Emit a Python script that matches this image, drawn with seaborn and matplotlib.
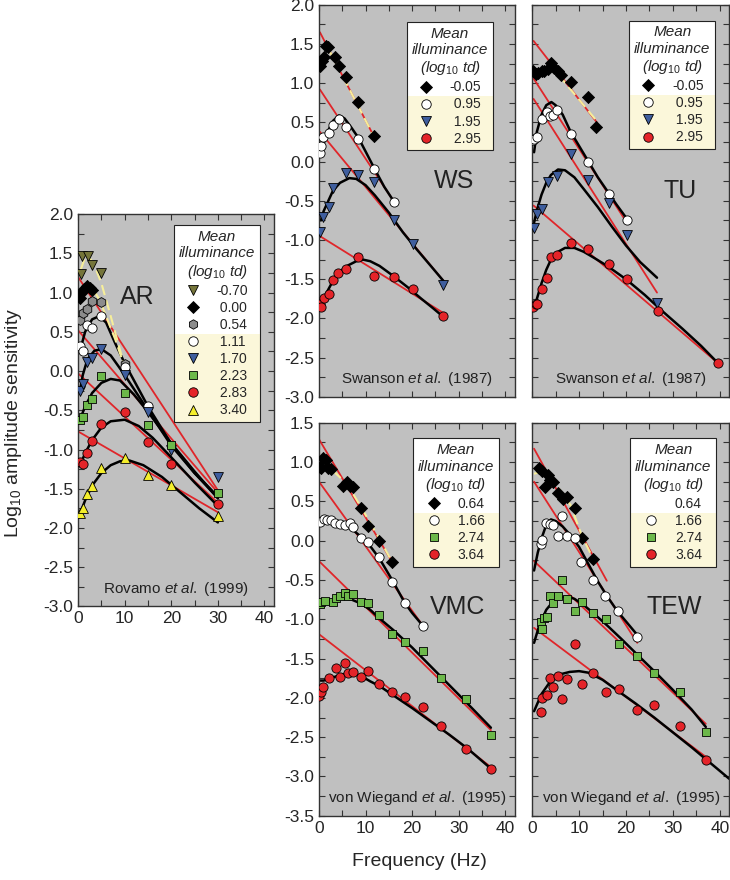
import matplotlib
matplotlib.use("Agg")
import matplotlib.pyplot as plt
import seaborn as sns
from matplotlib.lines import Line2D
from matplotlib.patches import Rectangle
from matplotlib.ticker import MultipleLocator

# ---------------- AR  (Rovamo et al. 1999) ----------------
ar_levels = ["-0.70", "0.00", "0.54", "1.11", "1.70", "2.23", "2.83", "3.40"]
ar_f_m070 = [0.6, 0.9, 2.1, 3.0, 5.0]
ar_v_m070 = [1.24, 1.47, 1.47, 1.35, 1.25]
ar_f_000 = [0.3, 0.6, 1.2, 1.9, 2.6, 3.0]
ar_v_000 = [0.93, 1.00, 1.05, 1.08, 1.06, 1.04]
ar_f_054 = [0.5, 1.0, 1.9, 3.0, 5.0, 10.0]
ar_v_054 = [0.65, 0.74, 0.79, 0.89, 0.88, 0.09]
ar_f_111 = [0.3, 1.0, 1.9, 3.0, 5.0, 10.0, 15.0]
ar_v_111 = [0.32, 0.26, 0.59, 0.55, 0.70, 0.05, -0.45]
ar_f_hi = [0.4, 1.0, 1.9, 3.0, 5.0, 10.0, 15.0, 20.0, 30.0]
ar_v_170 = [-0.25, -0.17, 0.12, 0.17, 0.28, -0.05, -0.52, -1.01, -1.35]
ar_v_223 = [-0.62, -0.58, -0.43, -0.36, -0.06, -0.28, -0.69, -0.94, -1.55]
ar_v_283 = [-1.16, -1.19, -1.04, -0.89, -0.68, -0.52, -0.91, -1.18, -1.70]
ar_v_340 = [-1.81, -1.74, -1.57, -1.47, -1.23, -1.11, -1.32, -1.45, -1.85]

ar_red_f = [0, 30]
ar_red_1 = [1.20, -1.52]
ar_red_2 = [0.52, -1.55]
ar_red_3 = [-0.03, -1.68]
ar_red_4 = [-0.77, -1.80]

ar_c111_f = [0.5, 1.5, 3.0, 4.5, 6.0, 8.0, 10.0, 15.0, 20.0, 25.0, 30.0]
ar_c111_v = [0.28, 0.50, 0.66, 0.70, 0.62, 0.35, 0.10, -0.45, -0.93, -1.30, -1.60]
ar_c170_f = [0.4, 1.0, 2.0, 3.5, 5.0, 7.0, 10.0, 15.0, 20.0, 25.0, 30.0]
ar_c170_v = [-0.25, -0.05, 0.15, 0.26, 0.28, 0.20, -0.05, -0.50, -0.95, -1.30, -1.62]
ar_c223_f = [0.4, 1.5, 3.0, 5.0, 7.0, 9.0, 12.0, 15.0, 20.0, 25.0, 30.0]
ar_c223_v = [-0.62, -0.45, -0.28, -0.15, -0.10, -0.12, -0.30, -0.52, -0.92, -1.28, -1.62]
ar_c283_f = [0.4, 1.5, 3.0, 5.0, 7.0, 10.0, 13.0, 16.0, 20.0, 25.0, 30.0]
ar_c283_v = [-1.20, -1.05, -0.88, -0.72, -0.64, -0.62, -0.70, -0.85, -1.10, -1.42, -1.72]
ar_c340_f = [0.4, 1.5, 3.0, 5.0, 7.0, 9.0, 11.0, 14.0, 18.0, 22.0, 26.0, 30.0]
ar_c340_v = [-1.82, -1.65, -1.46, -1.30, -1.20, -1.15, -1.14, -1.20, -1.35, -1.55, -1.75, -1.93]

ar_y1_f = [0.6, 1.5, 2.5, 3.5, 5.0, 7.0, 10.0]
ar_y1_v = [1.30, 1.45, 1.44, 1.35, 1.12, 0.70, 0.05]
ar_y2_f = [1.0, 2.0, 3.0, 4.5, 6.0, 8.0, 10.0]
ar_y2_v = [0.98, 1.07, 1.06, 0.92, 0.70, 0.40, 0.05]

# ---------------- WS  (Swanson et al. 1987) ----------------
sw_levels = ["-0.05", "0.95", "1.95", "2.95"]
ws_f_m005 = [0.3, 0.7, 1.1, 1.4, 1.9, 3.4, 4.3, 5.9, 8.4, 11.8]
ws_v_m005 = [1.22, 1.28, 1.34, 1.48, 1.46, 1.33, 1.22, 1.08, 0.76, 0.33]
ws_f_095 = [0.3, 0.5, 0.9, 2.1, 3.1, 4.2, 5.9, 8.4, 11.8, 16.2]
ws_v_095 = [0.11, 0.20, 0.32, 0.37, 0.47, 0.55, 0.44, 0.29, -0.10, -0.52]
ws_f_195 = [0.3, 0.9, 2.1, 3.1, 5.9, 8.4, 11.8, 16.2, 20.1, 26.7]
ws_v_195 = [-0.90, -0.71, -0.58, -0.33, -0.14, -0.17, -0.26, -0.75, -1.05, -1.57]
ws_f_295 = [0.3, 0.5, 1.0, 2.1, 3.1, 4.1, 5.9, 8.4, 11.8, 16.2, 20.1, 26.7]
ws_v_295 = [-1.82, -1.86, -1.74, -1.69, -1.51, -1.42, -1.37, -1.21, -1.46, -1.47, -1.63, -1.97]

ws_red_1 = ([0.2, 11.8], [1.65, 0.32])
ws_red_2 = ([0.2, 16.2], [0.92, -0.52])
ws_red_3 = ([0.2, 26.7], [0.38, -1.52])
ws_red_4 = ([0.2, 26.7], [-0.95, -1.93])

ws_c095_f = [0.3, 1.0, 2.0, 3.0, 4.3, 5.5, 7.0, 8.5, 10.0, 12.0, 14.0, 16.2]
ws_c095_v = [0.10, 0.27, 0.40, 0.52, 0.59, 0.55, 0.43, 0.30, 0.13, -0.10, -0.32, -0.52]
ws_c195_f = [0.4, 1.0, 2.0, 3.0, 4.5, 6.5, 8.0, 10.0, 12.0, 15.0, 18.0, 21.0, 24.0, 26.7]
ws_c195_v = [-0.75, -0.63, -0.50, -0.37, -0.27, -0.21, -0.22, -0.30, -0.43, -0.65, -0.90, -1.12, -1.33, -1.52]
ws_c295_f = [0.3, 1.0, 2.0, 3.0, 4.5, 6.0, 8.0, 9.5, 11.0, 13.0, 16.0, 19.0, 22.0, 24.5, 26.7]
ws_c295_v = [-1.85, -1.75, -1.63, -1.52, -1.40, -1.33, -1.27, -1.25, -1.27, -1.33, -1.46, -1.60, -1.75, -1.87, -1.98]
ws_yel = ([2.0, 11.8], [1.44, 0.32])

# ---------------- TU  (Swanson et al. 1987) ----------------
tu_f_m005 = [0.2, 0.8, 1.3, 2.0, 2.6, 3.3, 4.1, 4.6, 5.4, 6.1, 8.2, 11.9, 13.6]
tu_v_m005 = [1.15, 1.12, 1.13, 1.16, 1.15, 1.18, 1.26, 1.19, 1.15, 1.11, 1.02, 0.82, 0.44]
tu_f_095 = [0.1, 0.4, 1.1, 2.2, 3.1, 3.9, 4.4, 5.2, 8.2, 11.9, 16.3, 20.2]
tu_v_095 = [0.28, 0.29, 0.31, 0.54, 0.63, 0.58, 0.60, 0.66, 0.35, 0.00, -0.41, -0.74]
tu_f_195 = [0.4, 1.1, 2.2, 3.3, 5.2, 8.2, 11.9, 16.3, 20.2, 26.6]
tu_v_195 = [-0.84, -0.67, -0.60, -0.26, -0.18, 0.10, -0.24, -0.53, -0.94, -1.80]
tu_f_295 = [0.2, 0.8, 1.1, 2.0, 3.1, 4.0, 5.2, 8.2, 11.9, 16.3, 20.2, 26.8, 39.6]
tu_v_295 = [-1.86, -1.82, -1.81, -1.63, -1.48, -1.21, -1.19, -1.04, -1.11, -1.31, -1.50, -1.91, -2.57]

tu_red_1 = ([0.3, 13.8], [1.54, 0.50])
tu_red_2 = ([0.3, 20.2], [1.06, -0.78])
tu_red_3 = ([0.3, 26.6], [0.80, -1.67])
tu_red_4 = ([0.3, 39.6], [-0.56, -2.57])

tu_c095_f = [0.4, 1.0, 2.0, 3.0, 4.1, 5.0, 6.5, 8.2, 10.0, 12.0, 14.0, 16.3, 18.0, 20.2]
tu_c095_v = [0.12, 0.38, 0.60, 0.72, 0.76, 0.72, 0.60, 0.38, 0.20, 0.00, -0.20, -0.40, -0.55, -0.73]
tu_c195_f = [0.4, 1.0, 2.0, 3.0, 4.0, 5.5, 7.0, 9.0, 11.0, 14.0, 17.0, 20.0, 23.0, 26.6]
tu_c195_v = [-0.78, -0.62, -0.42, -0.27, -0.17, -0.10, -0.11, -0.20, -0.35, -0.58, -0.83, -1.07, -1.28, -1.48]
tu_c295_f = [0.2, 1.0, 2.0, 3.0, 4.0, 5.5, 7.0, 9.0, 11.0, 13.0, 16.0, 20.0, 24.0, 28.0, 32.0, 36.0, 39.6]
tu_c295_v = [-1.88, -1.75, -1.55, -1.38, -1.25, -1.15, -1.10, -1.10, -1.15, -1.22, -1.33, -1.50, -1.70, -1.92, -2.13, -2.35, -2.57]
tu_yel = ([3.5, 13.6], [1.26, 0.53])

# ---------------- VMC  (von Wiegand et al. 1995) ----------------
vw_levels = ["0.64", "1.66", "2.74", "3.64"]
vmc_f_064 = [0.3, 0.5, 0.9, 1.4, 1.9, 2.6, 5.1, 6.1, 6.6, 7.3, 9.1, 10.5, 12.8, 15.7]
vmc_v_064 = [0.94, 0.92, 1.05, 1.03, 0.92, 0.91, 0.70, 0.75, 0.70, 0.68, 0.41, 0.19, -0.01, -0.27]
vmc_f_166 = [0.3, 1.0, 1.7, 2.6, 3.4, 4.4, 5.5, 6.6, 7.3, 9.1, 10.5, 12.8, 15.7, 18.4, 22.4]
vmc_v_166 = [0.24, 0.28, 0.26, 0.26, 0.23, 0.21, 0.20, 0.23, 0.17, 0.03, -0.02, -0.21, -0.52, -0.79, -1.09]
vmc_f_274 = [0.2, 0.5, 1.2, 3.0, 3.6, 4.4, 5.5, 6.2, 7.4, 9.1, 10.5, 12.8, 15.7, 18.4, 22.4, 26.1, 31.6, 36.9]
vmc_v_274 = [-0.81, -0.78, -0.77, -0.78, -0.73, -0.70, -0.66, -0.70, -0.68, -0.78, -0.79, -0.94, -1.19, -1.29, -1.41, -1.75, -2.01, -2.47]
vmc_f_364 = [0.1, 0.5, 0.9, 2.1, 3.7, 4.6, 5.5, 6.2, 7.3, 9.1, 10.5, 12.8, 15.7, 18.4, 22.4, 26.1, 31.6, 36.9]
vmc_v_364 = [-1.98, -1.92, -1.86, -1.75, -1.62, -1.73, -1.56, -1.69, -1.67, -1.74, -1.66, -1.83, -1.92, -1.99, -2.12, -2.36, -2.65, -2.90]

vmc_red_1 = ([0.0, 15.7], [1.29, -0.27])
vmc_red_2 = ([0.0, 22.4], [0.75, -1.09])
vmc_red_3 = ([0.0, 36.9], [-0.26, -2.41])
vmc_red_4 = ([0.0, 36.9], [-1.19, -2.88])

vmc_c166_f = [0.0, 1.0, 3.0, 5.0, 7.0, 9.0, 11.0, 13.0, 15.7, 18.4, 20.0, 22.4]
vmc_c166_v = [0.20, 0.23, 0.23, 0.21, 0.15, 0.05, -0.07, -0.23, -0.50, -0.79, -0.92, -1.09]
vmc_c274_f = [0.0, 1.0, 3.0, 5.0, 7.0, 9.0, 11.0, 13.0, 16.0, 20.0, 24.0, 28.0, 32.0, 36.9]
vmc_c274_v = [-0.81, -0.79, -0.76, -0.74, -0.75, -0.80, -0.88, -0.99, -1.14, -1.36, -1.60, -1.84, -2.08, -2.38]
vmc_c364_f = [0.0, 1.0, 3.0, 5.0, 7.0, 9.0, 11.0, 13.0, 16.0, 20.0, 24.0, 28.0, 32.0, 36.9]
vmc_c364_v = [-1.78, -1.78, -1.74, -1.70, -1.69, -1.72, -1.79, -1.85, -1.97, -2.13, -2.30, -2.47, -2.65, -2.90]
vmc_yel = ([0.0, 2.3, 6.0, 9.0, 12.8, 15.7], [0.95, 0.93, 0.72, 0.43, 0.04, -0.27])

# ---------------- TEW  (von Wiegand et al. 1995) ----------------
tew_f_064 = [1.4, 2.1, 2.7, 3.3, 3.9, 4.4, 5.6, 6.6, 7.5, 9.1, 10.6, 13.0]
tew_v_064 = [0.92, 0.89, 0.68, 0.84, 0.77, 0.75, 0.60, 0.53, 0.55, 0.41, 0.03, -0.23]
tew_f_166 = [1.8, 2.0, 2.9, 3.7, 4.4, 5.6, 6.4, 7.4, 9.1, 10.4, 12.9, 15.6, 18.2, 22.4]
tew_v_166 = [-0.04, 0.01, 0.23, 0.21, 0.20, 0.06, 0.32, 0.06, 0.03, -0.27, -0.50, -0.71, -0.90, -1.22]
tew_f_274 = [1.8, 2.1, 2.5, 3.2, 3.7, 4.5, 5.6, 6.4, 7.4, 9.1, 10.6, 13.0, 15.7, 18.4, 22.4, 25.9, 31.6, 37.0]
tew_v_274 = [-1.04, -1.12, -0.99, -0.97, -0.71, -0.79, -0.71, -0.50, -0.74, -0.90, -0.78, -0.92, -1.00, -1.32, -1.47, -1.69, -1.92, -2.43]
tew_f_364 = [1.8, 2.1, 3.2, 3.7, 4.5, 5.6, 6.4, 7.4, 9.1, 10.6, 13.0, 15.7, 18.4, 22.4, 25.9, 31.6, 37.0]
tew_v_364 = [-2.18, -2.00, -1.97, -1.75, -1.86, -1.72, -2.02, -1.76, -1.32, -1.82, -1.69, -1.93, -1.89, -2.15, -2.09, -2.36, -2.79]

tew_red_1 = ([0.4, 15.9], [1.17, -0.51])
tew_red_2 = ([0.4, 22.4], [0.75, -1.30])
tew_red_3 = ([0.4, 37.0], [-0.26, -2.33])
tew_red_4 = ([0.4, 37.0], [-1.11, -2.75])

tew_c166_f = [0.4, 1.2, 2.0, 3.0, 4.0, 5.0, 6.5, 8.0, 10.0, 12.0, 14.0, 16.0, 18.2, 20.3, 22.4]
tew_c166_v = [-0.38, -0.15, 0.03, 0.20, 0.27, 0.25, 0.18, 0.08, -0.08, -0.30, -0.52, -0.71, -0.90, -1.05, -1.20]
tew_c274_f = [0.4, 1.5, 3.0, 4.5, 6.0, 7.5, 9.0, 11.0, 13.0, 16.0, 19.0, 22.4, 26.0, 30.0, 34.0, 37.0]
tew_c274_v = [-1.30, -1.08, -0.88, -0.77, -0.72, -0.71, -0.74, -0.82, -0.92, -1.08, -1.25, -1.45, -1.66, -1.90, -2.15, -2.37]
tew_c364_f = [0.4, 2.0, 4.0, 6.0, 8.0, 10.0, 12.0, 15.0, 18.0, 22.0, 26.0, 30.0, 34.0, 37.0, 42.0]
tew_c364_v = [-2.17, -1.95, -1.78, -1.70, -1.67, -1.66, -1.68, -1.77, -1.90, -2.07, -2.25, -2.44, -2.63, -2.78, -3.03]
tew_yel = ([0.4, 2.0, 4.3, 6.5, 8.2, 10.6, 13.0], [0.85, 0.88, 0.77, 0.60, 0.45, 0.06, -0.23])

# ---------------- styles ----------------
BG = "#c0c0c0"
CREAM = "#fbf7da"
RED_LINE = "#e0262a"
YEL_LINE = "#f6ee9a"
OLIVE = "#75753a"
GREY = "#8c8c8c"
BLUE = "#3f5e9e"
GREEN = "#6cb84a"
RED = "#e42429"
YELLOW = "#f4ee2c"

sns.set_style("ticks")
plt.rcParams["font.family"] = ["Liberation Sans", "DejaVu Sans"]
plt.rcParams["axes.unicode_minus"] = False
plt.rcParams["mathtext.fontset"] = "custom"
plt.rcParams["mathtext.rm"] = "Liberation Sans"
plt.rcParams["mathtext.it"] = "Liberation Sans:italic"

TITLE = "Mean\nilluminance\n(log$_{\\mathit{10}}$ td)"

fig = plt.figure(figsize=(7.3, 8.8), dpi=100)
ax_ar = fig.add_axes([0.107, 0.311, 0.268, 0.4455])
ax_ws = fig.add_axes([0.437, 0.549, 0.268, 0.4455])
ax_tu = fig.add_axes([0.729, 0.549, 0.270, 0.4455])
ax_vmc = fig.add_axes([0.437, 0.073, 0.268, 0.4466])
ax_tew = fig.add_axes([0.729, 0.073, 0.270, 0.4466])


def dots(ax, f, v, marker, color, s=44):
    sns.scatterplot(x=f, y=v, ax=ax, marker=marker, color=color, edgecolor="black",
                    linewidth=0.6, s=s, zorder=3, legend=False)


def line(ax, f, v, color, lw, ls="-", z=2):
    sns.lineplot(x=f, y=v, ax=ax, color=color, linewidth=lw, linestyle=ls,
                 estimator=None, sort=False, legend=False, zorder=z)


def red(ax, seg):
    line(ax, seg[0], seg[1], RED_LINE, 1.3)


def black(ax, f, v):
    line(ax, f, v, "black", 1.8, z=2.2)


def yellow(ax, f, v):
    line(ax, f, v, YEL_LINE, 1.5, ls=(0, (5, 2.5)), z=2.4)


def setup(ax, ylim, xlabels, ylabels, name, name_xy, cite):
    ax.set_facecolor(BG)
    ax.set_xlim(0, 42)
    ax.set_ylim(*ylim)
    ax.xaxis.set_major_locator(MultipleLocator(10))
    ax.xaxis.set_minor_locator(MultipleLocator(5))
    ax.yaxis.set_major_locator(MultipleLocator(0.5))
    ax.yaxis.set_minor_locator(MultipleLocator(0.25))
    ax.tick_params(which="both", direction="in", top=True, right=True,
                   length=4, width=0.8, labelsize=12.5, color="#333333")
    ax.tick_params(labelbottom=xlabels, labelleft=ylabels)
    ax.set_xlabel("")
    ax.set_ylabel("")
    for sp in ax.spines.values():
        sp.set_color("#333333")
        sp.set_linewidth(1.0)
    ax.text(name_xy[0], name_xy[1], name, transform=ax.transAxes, fontsize=18,
            ha="center", va="center", color="#222222")
    ax.text(0.5, 0.045, cite[0], transform=ax.transAxes, fontsize=11,
            ha="center", va="center", color="#222222")


def handle(marker, color, ms=6.8):
    if marker is None:
        return Line2D([], [], linestyle="none")
    return Line2D([], [], marker=marker, linestyle="none", markerfacecolor=color,
                  markeredgecolor="black", markeredgewidth=0.6, markersize=ms)


def legend(ax, handles, labels, right, top):
    leg = ax.legend(handles, labels, title=TITLE, loc="upper right",
                    bbox_to_anchor=(right, top), bbox_transform=ax.transAxes,
                    borderaxespad=0, fontsize=10, alignment="center",
                    title_fontproperties={"style": "italic", "size": 11},
                    handlelength=1.0, handletextpad=1.2, labelspacing=0.22,
                    borderpad=0.35, fancybox=False, framealpha=1)
    leg.get_title().set_multialignment("center")
    leg.get_frame().set_facecolor("none")
    leg.get_frame().set_edgecolor("#222222")
    leg.get_frame().set_linewidth(0.8)
    return leg


# ---------------- AR ----------------
ax = ax_ar
for seg in [(ar_red_f, ar_red_1), (ar_red_f, ar_red_2), (ar_red_f, ar_red_3), (ar_red_f, ar_red_4)]:
    red(ax, seg)
black(ax, ar_c111_f, ar_c111_v)
black(ax, ar_c170_f, ar_c170_v)
black(ax, ar_c223_f, ar_c223_v)
black(ax, ar_c283_f, ar_c283_v)
black(ax, ar_c340_f, ar_c340_v)
yellow(ax, ar_y1_f, ar_y1_v)
yellow(ax, ar_y2_f, ar_y2_v)
dots(ax, ar_f_m070, ar_v_m070, "v", OLIVE, 50)
dots(ax, ar_f_000, ar_v_000, "D", "black", 38)
dots(ax, ar_f_054, ar_v_054, "h", GREY, 50)
dots(ax, ar_f_111, ar_v_111, "o", "white")
dots(ax, ar_f_hi, ar_v_170, "v", BLUE, 50)
dots(ax, ar_f_hi, ar_v_223, "s", GREEN, 38)
dots(ax, ar_f_hi, ar_v_283, "o", RED)
dots(ax, ar_f_hi, ar_v_340, "^", YELLOW, 50)
setup(ax, (-3.0, 2.0), True, True, "AR", (0.30, 0.79), ["Rovamo $\\mathit{et\\ al.}$ (1999)"])
ar_handles = [handle("v", OLIVE), handle("D", "black", 5.8), handle("h", GREY),
              handle("o", "white"), handle("v", BLUE), handle("s", GREEN, 6.2),
              handle("o", RED), handle("^", YELLOW)]
ar_labels = [l if l.startswith("-") else " " + l for l in ar_levels]
leg_ar = legend(ax, ar_handles, ar_labels, 0.93, 0.972)

# ---------------- WS ----------------
ax = ax_ws
for seg in [ws_red_1, ws_red_2, ws_red_3, ws_red_4]:
    red(ax, seg)
black(ax, ws_c095_f, ws_c095_v)
black(ax, ws_c195_f, ws_c195_v)
black(ax, ws_c295_f, ws_c295_v)
yellow(ax, *ws_yel)
dots(ax, ws_f_m005, ws_v_m005, "D", "black", 38)
dots(ax, ws_f_095, ws_v_095, "o", "white")
dots(ax, ws_f_195, ws_v_195, "v", BLUE, 50)
dots(ax, ws_f_295, ws_v_295, "o", RED)
setup(ax, (-3.0, 2.0), False, True, "WS", (0.69, 0.55), ["Swanson $\\mathit{et\\ al.}$ (1987)"])
sw_handles = [handle("D", "black", 5.8), handle("o", "white"), handle("v", BLUE), handle("o", RED)]
sw_labels = [l if l.startswith("-") else " " + l for l in sw_levels]
leg_ws = legend(ax, sw_handles, sw_labels, 0.89, 0.957)

# ---------------- TU ----------------
ax = ax_tu
for seg in [tu_red_1, tu_red_2, tu_red_3, tu_red_4]:
    red(ax, seg)
black(ax, tu_c095_f, tu_c095_v)
black(ax, tu_c195_f, tu_c195_v)
black(ax, tu_c295_f, tu_c295_v)
yellow(ax, *tu_yel)
dots(ax, tu_f_m005, tu_v_m005, "D", "black", 38)
dots(ax, tu_f_095, tu_v_095, "o", "white")
dots(ax, tu_f_195, tu_v_195, "v", BLUE, 50)
dots(ax, tu_f_295, tu_v_295, "o", RED)
setup(ax, (-3.0, 2.0), False, False, "TU", (0.75, 0.525), ["Swanson $\\mathit{et\\ al.}$ (1987)"])
leg_tu = legend(ax, sw_handles, sw_labels, 0.93, 0.96)

# ---------------- VMC ----------------
ax = ax_vmc
for seg in [vmc_red_1, vmc_red_2, vmc_red_3, vmc_red_4]:
    red(ax, seg)
black(ax, vmc_c166_f, vmc_c166_v)
black(ax, vmc_c274_f, vmc_c274_v)
black(ax, vmc_c364_f, vmc_c364_v)
yellow(ax, *vmc_yel)
dots(ax, vmc_f_064, vmc_v_064, "D", "black", 38)
dots(ax, vmc_f_166, vmc_v_166, "o", "white")
dots(ax, vmc_f_274, vmc_v_274, "s", GREEN, 38)
dots(ax, vmc_f_364, vmc_v_364, "o", RED)
setup(ax, (-3.5, 1.5), True, True, "VMC", (0.71, 0.53), ["von Wiegand $\\mathit{et\\ al.}$ (1995)"])
vw_handles = [handle("D", "black", 5.8), handle("o", "white"), handle("s", GREEN, 6.2), handle("o", RED)]
leg_vmc = legend(ax, vw_handles, vw_levels, 0.92, 0.96)

# ---------------- TEW ----------------
ax = ax_tew
for seg in [tew_red_1, tew_red_2, tew_red_3, tew_red_4]:
    red(ax, seg)
black(ax, tew_c166_f, tew_c166_v)
black(ax, tew_c274_f, tew_c274_v)
black(ax, tew_c364_f, tew_c364_v)
yellow(ax, *tew_yel)
dots(ax, tew_f_064, tew_v_064, "D", "black", 38)
dots(ax, tew_f_166, tew_v_166, "o", "white")
dots(ax, tew_f_274, tew_v_274, "s", GREEN, 38)
dots(ax, tew_f_364, tew_v_364, "o", RED)
setup(ax, (-3.5, 1.5), True, False, "TEW", (0.72, 0.53), ["von Wiegand $\\mathit{et\\ al.}$ (1995)"])
tew_handles = [handle(None, None), handle("o", "white"), handle("s", GREEN, 6.2), handle("o", RED)]
leg_tew = legend(ax, tew_handles, vw_levels, 0.934, 0.96)

fig.text(0.018, 0.52, "Log$_{10}$ amplitude sensitivity", rotation=90, fontsize=14,
         ha="center", va="center")
fig.text(0.575, 0.021, "Frequency (Hz)", fontsize=14, ha="center", va="center")

# white / cream backgrounds behind legends
fig.canvas.draw()
renderer = fig.canvas.get_renderer()
for ax, leg, k in [(ax_ar, leg_ar, 3), (ax_ws, leg_ws, 1), (ax_tu, leg_tu, 1),
                   (ax_vmc, leg_vmc, 1), (ax_tew, leg_tew, 1)]:
    inv = ax.transAxes.inverted()
    bb = leg.get_frame().get_window_extent(renderer)
    (x0, y0), (x1, y1) = inv.transform([[bb.x0, bb.y0], [bb.x1, bb.y1]])
    tb_prev = leg.get_texts()[k - 1].get_window_extent(renderer)
    tb = leg.get_texts()[k].get_window_extent(renderer)
    ysplit = inv.transform([[0, (tb_prev.y0 + tb.y1) / 2]])[0][1]
    ax.add_patch(Rectangle((x0, ysplit), x1 - x0, y1 - ysplit, transform=ax.transAxes,
                           facecolor="white", edgecolor="none", zorder=4.5))
    ax.add_patch(Rectangle((x0, y0), x1 - x0, ysplit - y0, transform=ax.transAxes,
                           facecolor=CREAM, edgecolor="none", zorder=4.5))

fig.savefig("out.png", dpi=100)
